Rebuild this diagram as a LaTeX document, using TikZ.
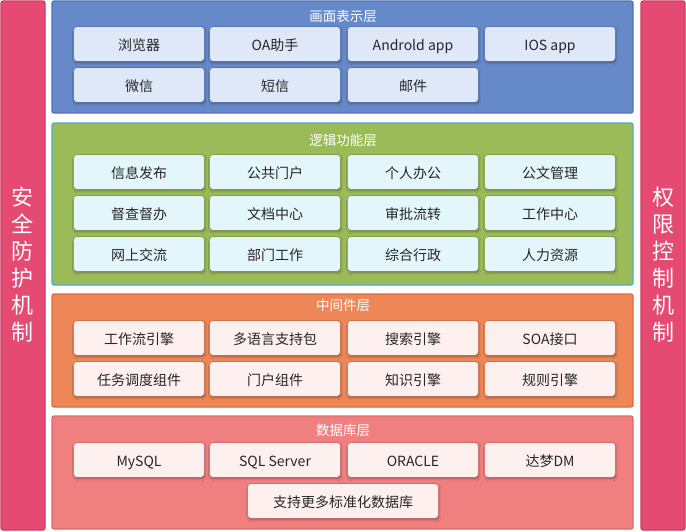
\documentclass[tikz,border=0pt]{standalone}
\usepackage{fontspec}
\setmainfont{Noto Sans CJK SC}
\usepackage{xcolor}
\usetikzlibrary{shadows.blur,positioning}

\definecolor{sidefill}{HTML}{E44A72}
\definecolor{sideline}{HTML}{CF3A60}
\definecolor{viewfill}{HTML}{6689C9}
\definecolor{viewline}{HTML}{5073B6}
\definecolor{logicfill}{HTML}{9BBB59}
\definecolor{logicline}{HTML}{4BACC6}
\definecolor{midfill}{HTML}{EE8758}
\definecolor{midline}{HTML}{DC6C40}
\definecolor{dbfill}{HTML}{F08080}
\definecolor{dbline}{HTML}{E26868}
\definecolor{viewbox}{HTML}{DEE8F9}
\definecolor{logicbox}{HTML}{E3F6FC}
\definecolor{redbox}{HTML}{FDF0EF}

\tikzset{
  layer/.style={draw, line width=1.2pt, rounded corners=2pt},
  layertitle/.style={text=white, font=\fontsize{13.5}{15}\selectfont, inner sep=0pt},
  item/.style={rounded corners=3pt, minimum width=130pt, minimum height=34pt,
    inner sep=0pt, text height=13.5pt, text depth=0pt,
    font=\fontsize{14}{16}\selectfont, text=black!85,
    blur shadow={shadow xshift=0.8pt, shadow yshift=-1.6pt, shadow blur steps=6, shadow opacity=35}},
  sidetext/.style={text=white, align=center, inner sep=0pt,
    font=\fontsize{22}{27}\selectfont}
}

\begin{document}
\begin{tikzpicture}[x=1pt, y=-1pt]
  \useasboundingbox (0,0) rectangle (686,531);
  % side bars
  \draw[layer, fill=sidefill, draw=sideline] (1,1) rectangle (45,530);
  \draw[layer, fill=sidefill, draw=sideline] (641,1) rectangle (685,530);
  \node[sidetext] (safe) at (23,265) {安\\全\\防\\护\\机\\制};
  \node[sidetext] (auth) at (663,265) {权\\限\\控\\制\\机\\制};

  % 画面表示层
  \draw[layer, fill=viewfill, draw=viewline] (52,1) rectangle (633,113);
  \node[layertitle] (viewtitle) at (343,16) {画面表示层};
  \node[item, fill=viewbox] (browser) at (139,44) {浏览器};
  \node[item, fill=viewbox] (oa) at (275,44) {OA助手};
  \node[item, fill=viewbox] (android) at (413,44) {Androld app};
  \node[item, fill=viewbox] (ios) at (550,44) {IOS app};
  \node[item, fill=viewbox] (wechat) at (139,85) {微信};
  \node[item, fill=viewbox] (sms) at (275,85) {短信};
  \node[item, fill=viewbox] (mail) at (413,85) {邮件};

  % 逻辑功能层
  \draw[layer, fill=logicfill, draw=logicline] (52,123) rectangle (633,285);
  \node[layertitle] (logictitle) at (343,140) {逻辑功能层};
  \node[item, fill=logicbox] (publish) at (139,172) {信息发布};
  \node[item, fill=logicbox] (portal) at (275,172) {公共门户};
  \node[item, fill=logicbox] (office) at (413,172) {个人办公};
  \node[item, fill=logicbox] (docmgr) at (550,172) {公文管理};
  \node[item, fill=logicbox] (supervise) at (139,213) {督查督办};
  \node[item, fill=logicbox] (archive) at (275,213) {文档中心};
  \node[item, fill=logicbox] (approve) at (413,213) {审批流转};
  \node[item, fill=logicbox] (workcenter) at (550,213) {工作中心};
  \node[item, fill=logicbox] (forum) at (139,254) {网上交流};
  \node[item, fill=logicbox] (dept) at (275,254) {部门工作};
  \node[item, fill=logicbox] (admin) at (413,254) {综合行政};
  \node[item, fill=logicbox] (hr) at (550,254) {人力资源};

  % 中间件层
  \draw[layer, fill=midfill, draw=midline] (52,294) rectangle (633,407);
  \node[layertitle] (midtitle) at (343,305) {中间件层};
  \node[item, fill=redbox] (flow) at (139,338) {工作流引擎};
  \node[item, fill=redbox] (lang) at (275,338) {多语言支持包};
  \node[item, fill=redbox] (search) at (413,338) {搜索引擎};
  \node[item, fill=redbox] (soa) at (550,338) {SOA接口};
  \node[item, fill=redbox] (sched) at (139,379) {任务调度组件};
  \node[item, fill=redbox] (portalpart) at (275,379) {门户组件};
  \node[item, fill=redbox] (know) at (413,379) {知识引擎};
  \node[item, fill=redbox] (rule) at (550,379) {规则引擎};

  % 数据库层
  \draw[layer, fill=dbfill, draw=dbline] (52,416) rectangle (633,529);
  \node[layertitle] (dbtitle) at (343,430) {数据库层};
  \node[item, fill=redbox] (mysql) at (139,460) {MySQL};
  \node[item, fill=redbox] (mssql) at (275,460) {SQL Server};
  \node[item, fill=redbox] (oracle) at (413,460) {ORACLE};
  \node[item, fill=redbox] (dm) at (550,460) {达梦DM};
  \node[item, fill=redbox, minimum width=190pt] (more) at (343,501) {支持更多标准化数据库};
\end{tikzpicture}
\end{document}
